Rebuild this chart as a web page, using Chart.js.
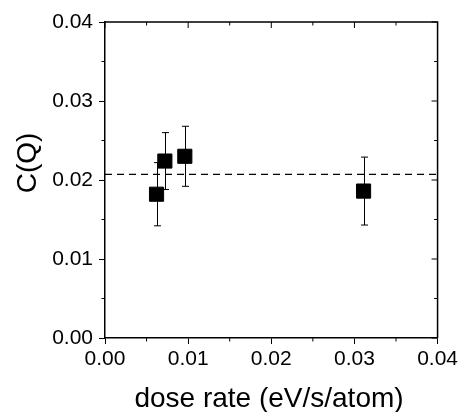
<!DOCTYPE html>
<html>
<head>
<meta charset="utf-8">
<script src="https://cdn.jsdelivr.net/npm/chart.js@4"></script>
<style>
  html, body { margin: 0; padding: 0; background: #fff; }
  #wrap { width: 461px; height: 412px; }
</style>
</head>
<body>
<div id="wrap"><canvas id="chart"></canvas></div>
<script>
// values
const doseRate = [0.0062, 0.0072, 0.0096, 0.0311];
const cq = [0.0182, 0.0224, 0.0230, 0.0186];
const cqErr = [0.0040, 0.0036, 0.0038, 0.0043];
const meanCQ = 0.0207;
const axisTicks = [0, 0.01, 0.02, 0.03, 0.04];
const minorTicks = [0.005, 0.015, 0.025, 0.035];
const xTitle = 'dose rate (eV/s/atom)';
const yTitle = 'C(Q)';

const FONT = '"Liberation Sans", Arial, sans-serif';

const decor = {
  id: 'decor',
  beforeDatasetsDraw(chart) {
    const { ctx, scales: { x, y } } = chart;
    ctx.save();
    ctx.strokeStyle = '#000';
    ctx.lineWidth = 1;
    doseRate.forEach((d, i) => {
      const px = Math.round(x.getPixelForValue(d)) + 0.5;
      const top = y.getPixelForValue(cq[i] + cqErr[i]);
      const bot = y.getPixelForValue(cq[i] - cqErr[i]);
      ctx.beginPath();
      ctx.moveTo(px, top); ctx.lineTo(px, bot);
      ctx.moveTo(px - 3.5, top); ctx.lineTo(px + 3.5, top);
      ctx.moveTo(px - 3.5, bot); ctx.lineTo(px + 3.5, bot);
      ctx.stroke();
    });
    ctx.restore();
  },
  afterDraw(chart) {
    const { ctx, chartArea: a, scales: { x, y } } = chart;
    ctx.save();
    ctx.strokeStyle = '#000';
    // top and right frame
    ctx.lineWidth = 1.5;
    ctx.beginPath();
    ctx.moveTo(a.left, a.top); ctx.lineTo(a.right, a.top); ctx.lineTo(a.right, a.bottom);
    ctx.stroke();
    // mirrored ticks (inside) and minor ticks
    ctx.lineWidth = 1;
    ctx.beginPath();
    axisTicks.forEach(v => {
      const px = x.getPixelForValue(v), py = y.getPixelForValue(v);
      ctx.moveTo(px, a.top); ctx.lineTo(px, a.top + 6);
      ctx.moveTo(a.right, py); ctx.lineTo(a.right - 6, py);
    });
    minorTicks.forEach(v => {
      const px = x.getPixelForValue(v), py = y.getPixelForValue(v);
      ctx.moveTo(px, a.top); ctx.lineTo(px, a.top + 3.5);
      ctx.moveTo(a.right, py); ctx.lineTo(a.right - 3.5, py);
      ctx.moveTo(px, a.bottom); ctx.lineTo(px, a.bottom + 3.5);
      ctx.moveTo(a.left, py); ctx.lineTo(a.left - 3.5, py);
    });
    ctx.stroke();
    // axis titles
    ctx.fillStyle = '#000';
    ctx.font = '28px ' + FONT;
    ctx.textAlign = 'center';
    ctx.textBaseline = 'alphabetic';
    ctx.fillText(xTitle, 269, 407);
    ctx.translate(36, 163);
    ctx.rotate(-Math.PI / 2);
    ctx.fillText(yTitle, 0, 0);
    ctx.restore();
  }
};

const tickFont = { family: FONT, size: 21 };

new Chart(document.getElementById('chart'), {
  type: 'scatter',
  data: {
    datasets: [
      {
        type: 'line',
        label: 'mean',
        data: [{ x: axisTicks[0], y: meanCQ }, { x: axisTicks[4], y: meanCQ }],
        borderColor: '#000',
        borderWidth: 1.3,
        borderDash: [7, 5],
        pointRadius: 0,
        order: 2
      },
      {
        label: 'C(Q)',
        data: doseRate.map((d, i) => ({ x: d, y: cq[i] })),
        pointStyle: 'rect',
        pointRadius: 10,
        backgroundColor: '#000',
        borderColor: '#000',
        borderWidth: 1,
        order: 1
      }
    ]
  },
  options: {
    responsive: true,
    maintainAspectRatio: false,
    animation: false,
    layout: { padding: { top: 22, right: 21, left: 0, bottom: 0 } },
    plugins: { legend: { display: false }, tooltip: { enabled: false } },
    scales: {
      x: {
        type: 'linear',
        min: 0, max: 0.04,
        afterFit: s => { s.height = 74; },
        ticks: { stepSize: 0.01, color: '#000', font: tickFont, padding: 3, maxRotation: 0,
                 callback: v => v.toFixed(2) },
        grid: { drawOnChartArea: false, color: '#000', tickColor: '#000', tickLength: 6, tickWidth: 1 },
        border: { color: '#000', width: 1.5 }
      },
      y: {
        type: 'linear',
        min: 0, max: 0.04,
        afterFit: s => { s.width = 105; },
        ticks: { stepSize: 0.01, color: '#000', font: tickFont, padding: 6,
                 callback: v => v.toFixed(2) },
        grid: { drawOnChartArea: false, color: '#000', tickColor: '#000', tickLength: 6, tickWidth: 1 },
        border: { color: '#000', width: 1.5 }
      }
    }
  },
  plugins: [decor]
});
</script>
</body>
</html>
